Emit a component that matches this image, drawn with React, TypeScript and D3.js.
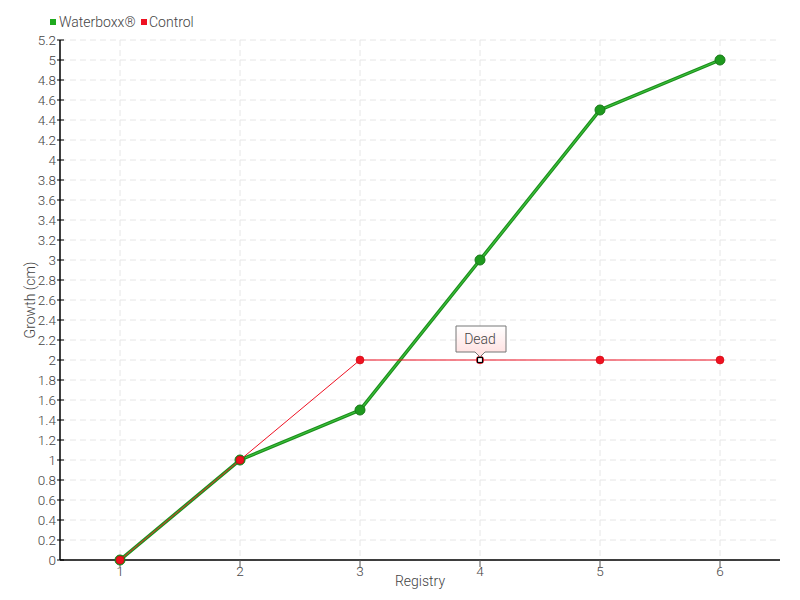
import React from "react";
import * as d3 from "d3";

const categories = [1, 2, 3, 4, 5, 6];
const waterboxx = [0, 1, 1.5, 3, 4.5, 5];
const control = [0, 1, 2, 2, 2, 2];
const yTicks = d3.range(0, 5.2001, 0.2).map((v) => +v.toFixed(1));
const annotation = { index: 3, text: "Dead" };

const W = 800, H = 600;
const M = { left: 60, right: 20, top: 40, bottom: 40 };
const FONT = "Roboto, sans-serif";

export default function App() {
  const x = d3.scalePoint<number>().domain(categories).range([M.left, W - M.right]).padding(0.5);
  const y = d3.scaleLinear().domain([0, 5.2]).range([H - M.bottom, M.top]);
  const line = d3.line<number>().x((_, i) => x(categories[i])!).y((d) => y(d));
  const fmt = (v: number) => String(+v.toFixed(1));
  const ax = x(categories[annotation.index])!;
  const ay = y(control[annotation.index]);
  return (
    <svg width={W} height={H} style={{ position: "absolute", left: 0, top: 0, background: "#fff" }} fontFamily={FONT} fontWeight={300}>
      <defs>
        <linearGradient id="tip" x1="0" y1="0" x2="0" y2="1">
          <stop offset="0" stopColor="#fff" />
          <stop offset="1" stopColor="#fdd" />
        </linearGradient>
      </defs>
      {yTicks.map((t) => (
        <line key={"g" + t} x1={M.left} x2={W - M.right} y1={y(t)} y2={y(t)} stroke="#e6e6e6" strokeDasharray="6,4" />
      ))}
      {categories.map((c) => (
        <line key={"v" + c} x1={x(c)} x2={x(c)} y1={M.top} y2={H - M.bottom} stroke="#e6e6e6" strokeDasharray="6,4" />
      ))}
      {/* axes */}
      <line x1={M.left} x2={M.left} y1={M.top} y2={H - M.bottom} stroke="#000" strokeWidth={1.5} />
      <line x1={M.left} x2={W - M.right} y1={H - M.bottom} y2={H - M.bottom} stroke="#000" strokeWidth={1.5} />
      {yTicks.map((t) => (
        <g key={"yt" + t}>
          <line x1={M.left - 3} x2={M.left + 4} y1={y(t)} y2={y(t)} stroke="#000" />
          <text x={M.left - 4} y={y(t)} dy="0.35em" textAnchor="end" fontSize={13.5} fill="#444">{fmt(t)}</text>
        </g>
      ))}
      {categories.map((c) => (
        <g key={"xt" + c}>
          <line x1={x(c)} x2={x(c)} y1={H - M.bottom} y2={H - M.bottom + 7} stroke="#555" />
          <text x={x(c)} y={H - M.bottom + 16} textAnchor="middle" fontSize={13.5} fill="#444">{c}</text>
        </g>
      ))}
      <text x={(M.left + W - M.right) / 2} y={586} textAnchor="middle" fontSize={14} fill="#444">Registry</text>
      <text transform={`translate(35,${(M.top + H - M.bottom) / 2}) rotate(-90)`} textAnchor="middle" fontSize={14} fill="#444">Growth (cm)</text>
      {/* waterboxx */}
      <path d={line(waterboxx)!} fill="none" stroke="#1c8f1c" strokeWidth={3.5} />
      <path d={line(waterboxx)!} fill="none" stroke="#3cc03c" strokeWidth={1.2} />
      {waterboxx.map((v, i) => (
        <circle key={"wp" + i} cx={x(categories[i])} cy={y(v)} r={5} fill="#1e9a1e" stroke="#177a17" strokeWidth={1} />
      ))}
      {/* control */}
      <path d={line(control)!} fill="none" stroke="#ee1122" strokeWidth={1} />
      {control.map((v, i) =>
        i === annotation.index ? (
          <g key={"cp" + i}>
            <circle cx={x(categories[i])} cy={y(v)} r={4} fill="#ee1122" />
            <rect x={x(categories[i])! - 2.5} y={y(v) - 2.5} width={5} height={5} fill="#fff" stroke="#000" strokeWidth={1.2} />
          </g>
        ) : (
          <circle key={"cp" + i} cx={x(categories[i])} cy={y(v)} r={4} fill="#ee1122" stroke="#c00" strokeWidth={0.5} />
        )
      )}
      {/* annotation */}
      <g>
        <path
          d={`M${ax - 24},${ay - 34} H${ax + 26} V${ay - 8} H${ax + 5} L${ax},${ay - 3} L${ax - 5},${ay - 8} H${ax - 24} Z`}
          fill="url(#tip)" stroke="#777" strokeWidth={1}
        />
        <text x={ax} y={ay - 16} textAnchor="middle" fontSize={14} fill="#444">{annotation.text}</text>
      </g>
      {/* legend */}
      <rect x={50} y={19} width={6} height={6} fill="#1faa1f" />
      <text x={59} y={27} fontSize={14} fill="#444">Waterboxx®</text>
      <rect x={141} y={19} width={6} height={6} fill="#ee1122" />
      <text x={149} y={27} fontSize={14} fill="#444">Control</text>
    </svg>
  );
}
